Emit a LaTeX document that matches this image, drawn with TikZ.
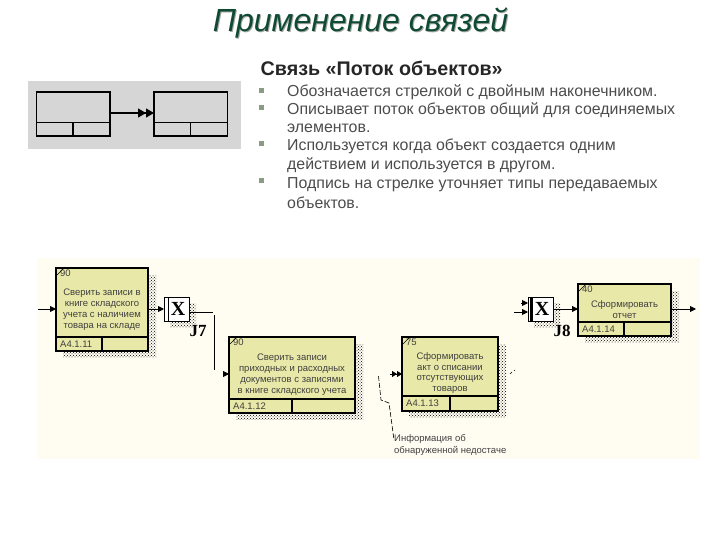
\documentclass[tikz,border=0pt]{standalone}
\usepackage{fontspec}
\setmainfont{Liberation Sans}
\newfontfamily\serifbold[Scale=1]{Liberation Serif}
\usetikzlibrary{arrows.meta}
\usetikzlibrary{patterns}
\definecolor{slidegreen}{HTML}{0F4A33}
\definecolor{bulletgreen}{HTML}{8C9C84}
\definecolor{panelgray}{HTML}{D6D6D6}
\definecolor{sheetcream}{HTML}{FFFCF2}
\definecolor{boxyellow}{HTML}{E8E8A8}
\tikzset{bar/.style = {draw, line width=1.2pt, inner sep=0, outer sep=0},
         cell/.style = {draw, line width=1.1pt, fill=boxyellow, inner sep=0, outer sep=0},
         junction/.style = {draw, line width=1pt, fill=white, inner sep=0, outer sep=0,
                            minimum width=25pt, minimum height=24pt,
                            font=\serifbold\bfseries\fontsize{20}{20}\selectfont},
         flow/.style = {line width=0.9pt, -{Triangle[length=6pt,width=6pt]}},
         dflow/.style = {line width=0.9pt, -{Triangle[length=5pt,width=6pt]Triangle[length=5pt,width=6pt]}},
         stipple/.style = {pattern=crosshatch dots, pattern color=black},
         boxtext/.style = {align=center, inner sep=0, font=\fontsize{9.5}{10.9}\selectfont, text=black!75},
         bodyline/.style = {anchor=base west, inner sep=0, text=black!70, font=\fontsize{15.9}{18}\selectfont},
         junctext/.style = {inner sep=0, font=\serifbold\bfseries\fontsize{17}{17}\selectfont}}
\begin{document}
\begin{tikzpicture}[x=1pt, y=-1pt]
    \useasboundingbox (0, 0) rectangle (720, 540);

    \node [inner sep=0, text=black!35, font=\itshape\fontsize{32}{34}\selectfont] at (361.5, 24) {Применение связей};
    \node (title) [inner sep=0, text=slidegreen, font=\itshape\fontsize{32}{34}\selectfont] at (360.5, 23) {Применение связей};
    \node (heading) [anchor=base west, inner sep=0, text=black!85, font=\bfseries\fontsize{19.7}{22}\selectfont] at (260.5, 76) {Связь «Поток объектов»};

    \foreach \y in {91, 108, 144, 181} {
      \fill [bulletgreen] (258.5, \y-2.5) rectangle (263.5, \y+2.5);
    }
    \foreach \y/\line in {97/Обозначается стрелкой с двойным наконечником.,
                          115/Описывает поток объектов общий для соединяемых,
                          133/элементов.,
                          151/Используется когда объект создается одним,
                          170/действием и используется в другом.,
                          189/Подпись на стрелке уточняет типы передаваемых,
                          209/объектов.} {
      \node [bodyline] at (287, \y) {\line};
    }

    \fill [panelgray] (28, 81) rectangle (241, 149);
    \foreach \n/\xa in {a/36.5, b/154} {
      \node (\n) [bar, minimum width=73.5pt, minimum height=30.5pt] at (\xa+36.75, 107.25) {};
      \node (\n l) [bar, minimum width=36.5pt, minimum height=13.5pt] at (\xa+18.25, 129.25) {};
      \node (\n r) [bar, minimum width=37pt, minimum height=13.5pt] at (\xa+55, 129.25) {};
    }
    \draw [dflow, line width=1.2pt, -{Triangle[length=8pt,width=9pt]Triangle[length=8pt,width=9pt]}] (a.east |- 0, 113) -- (b.west |- 0, 113);

    \fill [sheetcream] (37, 258) rectangle (700, 459);

    \foreach \n/\xa/\ya/\xb/\yd/\yb/\xd/\num/\code in {check/56/268/148/337/351/102/90/A4.1.11,
                                                       compare/229/337/355/399/413/292/90/A4.1.12,
                                                       act/402/337/498/396/411/450/75/A4.1.13,
                                                       report/578/284/671/322/336/624/40/A4.1.14} {
      \fill [stipple] (\xb, \ya+7) rectangle (\xb+8, \yb+6);
      \fill [stipple] (\xa+7, \yb) rectangle (\xb, \yb+6);
      \node (\n) [cell, minimum width=\xb-\xa, minimum height=\yd-\ya] at ({(\xa+\xb)/2}, {(\ya+\yd)/2}) {};
      \node (\n l) [cell, minimum width=\xd-\xa, minimum height=\yb-\yd] at ({(\xa+\xd)/2}, {(\yd+\yb)/2}) {};
      \node (\n r) [cell, minimum width=\xb-\xd, minimum height=\yb-\yd] at ({(\xd+\xb)/2}, {(\yd+\yb)/2}) {};
      \node [boxtext, anchor=west] at (\xa+4, \yd+7) {\code};
      \node [boxtext, anchor=north west] at (\xa+4, \ya+2) {\num};
      \draw [line width=0.6pt] (\xa+1, \ya+7) -- (\xa+7, \ya+1);
    }
    \node (checktext) [boxtext] at (102, 309.5) {Сверить записи в\\книге складского\\учета с наличием\\товара на складе};
    \node (comparetext) [boxtext] at (292, 375) {Сверить записи\\приходных и расходных\\документов с записями\\в книге складского учета};
    \node (acttext) [boxtext] at (450, 373) {Сформировать\\акт о списании\\отсутствующих\\товаров};
    \node (reporttext) [boxtext] at (624.5, 309.5) {Сформировать\\отчет};

    \fill [stipple] (189, 303) rectangle (196, 327);
    \fill [stipple] (170, 321) rectangle (189, 327);
    \fill [stipple] (553, 303) rectangle (560, 327);
    \fill [stipple] (534, 321) rectangle (553, 327);
    \node (jseven) [junctext] at (198, 331) {J7};
    \node (jeight) [junctext] at (562, 331) {J8};
    \node (xseven) [junction] at (176.5, 309) {\hspace{3pt}X};
    \node (xeight) [junction] at (540.5, 309) {\hspace{3pt}X};
    \draw [line width=1pt] (xseven.north west) ++(4, 0) -- ++(0, 24);
    \draw [line width=2.4pt] (xeight.north west) ++(3.5, 0) -- ++(0, 24);

    \coordinate (incheck) at (38, 309);
    \coordinate (sevenbend) at (213, 312);
    \coordinate (sevenend) at (214, 370);
    \coordinate (instub) at (223, 374);
    \coordinate (actstub) at (390, 374);
    \coordinate (outact) at (515, 370);
    \coordinate (eightin) at (514, 312);
    \coordinate (eightup) at (521, 303);
    \coordinate (outreport) at (696, 309);

    \draw [flow] (incheck) -- (check.west |- incheck);
    \draw [flow] (check.east |- incheck) -- (xseven.west |- incheck);
    \draw [line width=0.9pt] (xseven.east |- sevenbend) -- (sevenbend);
    \draw [line width=0.9pt] (214, 315) -- (sevenend);
    \draw [flow] (instub) -- (compare.west |- instub);
    \draw [dflow] (actstub) -- (act.west |- actstub);
    \draw [line width=0.6pt] (510, 374) -- (512, 372) (outact) -- ++(-1, 1);
    \draw [flow] (eightin) -- (xeight.west |- eightin);
    \draw [flow] (eightup) -- (xeight.west |- eightup);
    \draw [flow] (xeight.east |- incheck) -- (report.west |- incheck);
    \draw [flow] (report.east |- incheck) -- (outreport);

    \draw [line width=0.6pt, dashed, dash pattern=on 5pt off 2pt] (378.5, 376) -- (381, 400) -- (389, 403) -- (394, 440);
    \node (lacktext) [boxtext, anchor=west, align=left, font=\fontsize{9.5}{12}\selectfont] at (394, 445) {Информация об\\обнаруженной недостаче};
  \end{tikzpicture}
\end{document}
